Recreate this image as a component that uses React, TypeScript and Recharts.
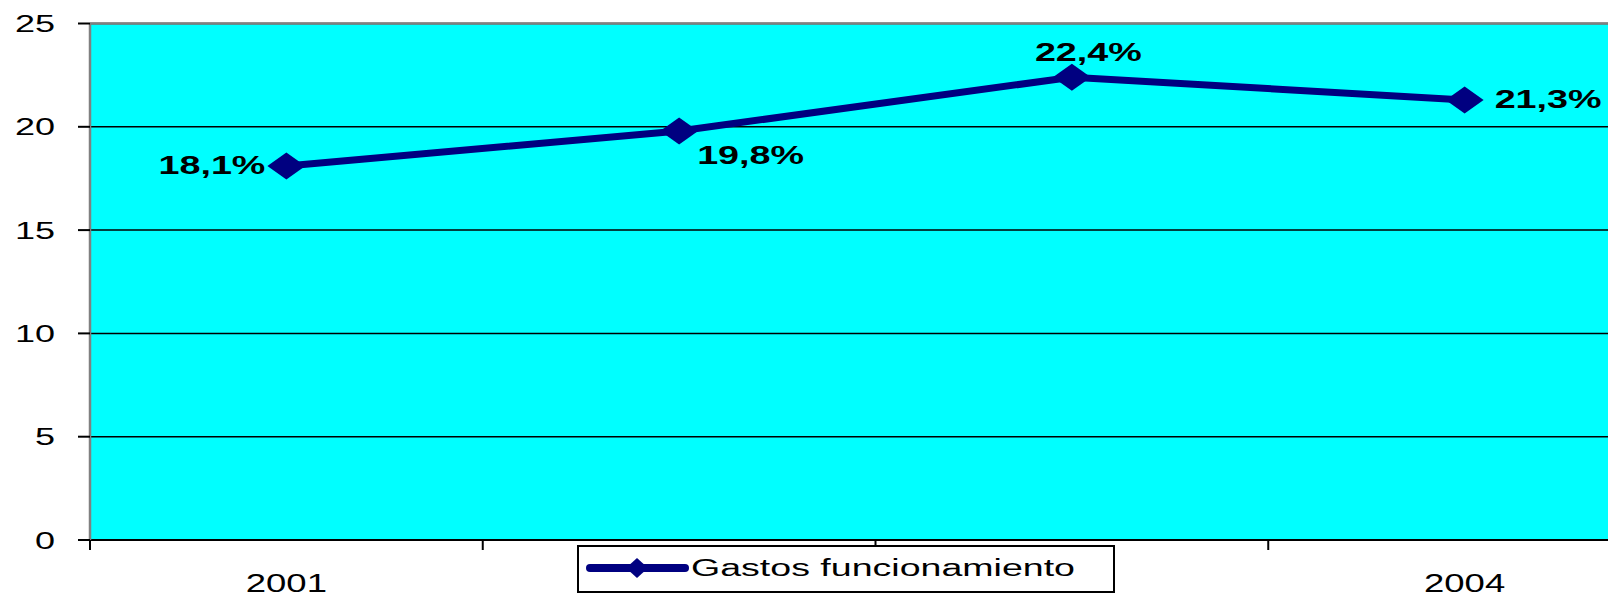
import React from "react"
import { LineChart, Line, XAxis, YAxis, CartesianGrid, ReferenceLine, LabelList } from "recharts"

const years = ["2001", "2002", "2003", "2004"]
const gastos = [18.1, 19.8, 22.4, 21.3]
const seriesName = "Gastos funcionamiento"
const yTicks = [0, 5, 10, 15, 20, 25]
// category boundaries and centres on a numeric axis
const xTicks = [-0.5, 0, 0.5, 1, 1.5, 2, 2.5, 3, 3.5]

const data = years.map((year, i) => ({ idx: i, year, gastos: gastos[i] }))

// where each data label sits relative to its point
const labelPlacement = [
  { dx: -21, dy: -1.5, anchor: "end" },
  { dx: 18, dy: 24, anchor: "start" },
  { dx: -37, dy: -25.5, anchor: "start" },
  { dx: 30, dy: -1, anchor: "start" },
]

const FONT = "'Liberation Sans', Arial, sans-serif"
const NAVY = "#000080"

const Diamond = (props: any) => {
  const { cx, cy } = props
  if (cx == null || cy == null) return null
  return (
    <polygon
      points={`${cx - 19},${cy} ${cx},${cy - 13.5} ${cx + 19},${cy} ${cx},${cy + 13.5}`}
      fill={NAVY}
    />
  )
}

const YTick = (props: any) => {
  const { x, y, payload } = props
  return (
    <text
      transform={`translate(${x},${y}) scale(1.5,1)`}
      y={8.6}
      textAnchor="end"
      fontFamily={FONT}
      fontSize={24}
      fill="#000"
    >
      {payload.value}
    </text>
  )
}

const XTick = (props: any) => {
  const { x, y, payload } = props
  const v = payload.value
  if (!Number.isInteger(v)) {
    return <line x1={x} x2={x} y1={y - 10} y2={y} stroke="#000" strokeWidth={2} />
  }
  return (
    <text
      transform={`translate(${x},${y + 42}) scale(1.46,1)`}
      textAnchor="middle"
      fontFamily={FONT}
      fontSize={25}
      fill="#000"
    >
      {years[v]}
    </text>
  )
}

const PointLabel = (props: any) => {
  const { x, y, value, index } = props
  const p = labelPlacement[index]
  return (
    <text
      transform={`translate(${x + p.dx},${y + p.dy}) scale(1.45,1)`}
      y={9.3}
      textAnchor={p.anchor}
      fontFamily={FONT}
      fontSize={26}
      fontWeight="bold"
      fill="#000"
    >
      {`${Number(value).toFixed(1).replace(".", ",")}%`}
    </text>
  )
}

const LegendBox = () => (
  <div
    style={{
      position: "absolute",
      left: 577,
      top: 545,
      width: 538,
      height: 48,
      boxSizing: "border-box",
      border: "2px solid #000",
      background: "#fff",
    }}
  >
    <svg width={534} height={44} style={{ display: "block" }}>
      <line x1={11} x2={106} y1={21} y2={21} stroke={NAVY} strokeWidth={8} strokeLinecap="round" />
      <polygon points="47,21 58,11 69,21 58,31" fill={NAVY} />
      <text x={112} y={29} fontFamily={FONT} fontSize={23} fill="#000" textLength={384} lengthAdjust="spacingAndGlyphs">
        {seriesName}
      </text>
    </svg>
  </div>
)

export default function App() {
  return (
    <div style={{ position: "fixed", left: 0, top: 0, width: 1608, height: 595, overflow: "hidden", background: "#fff" }}>
      <LineChart width={1671} height={595} data={data} margin={{ top: 23.5, right: 10, left: 0, bottom: 0 }}>
        <CartesianGrid horizontal vertical={false} fill="#00FFFF" stroke="#000" strokeWidth={1.5} />
        <XAxis
          dataKey="idx"
          type="number"
          domain={[-0.5, 3.5]}
          allowDataOverflow
          ticks={xTicks}
          interval={0}
          height={55}
          tickSize={10}
          tickMargin={0}
          tickLine={false}
          axisLine={{ stroke: "#000", strokeWidth: 2 }}
          tick={<XTick />}
        />
        <YAxis
          domain={[0, 25]}
          ticks={yTicks}
          interval={0}
          width={90}
          tickSize={12}
          tickMargin={23}
          tickLine={{ stroke: "#000", strokeWidth: 2 }}
          axisLine={{ stroke: "#808080", strokeWidth: 2.5 }}
          tick={<YTick />}
        />
        <ReferenceLine y={25} stroke="#808080" strokeWidth={2.5} />
        <Line
          dataKey="gastos"
          name={seriesName}
          stroke={NAVY}
          strokeWidth={7}
          dot={<Diamond />}
          activeDot={false}
          isAnimationActive={false}
        >
          <LabelList dataKey="gastos" content={<PointLabel />} />
        </Line>
      </LineChart>
      <LegendBox />
    </div>
  )
}
